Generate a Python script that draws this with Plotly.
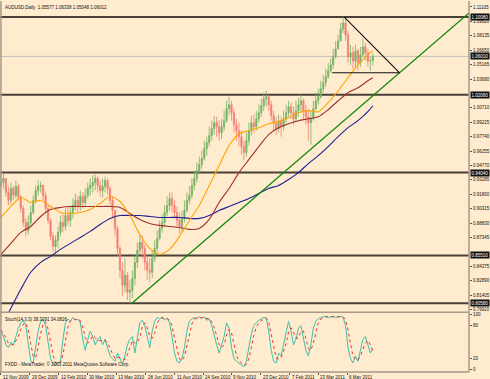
import plotly.graph_objects as go

# ---------------- data ----------------
# price bars (each bar ~ 3 trading days), Nov 2009 .. Jun 2011
closes = [
    0.9302, 0.9343, 0.9199, 0.9117, 0.9240, 0.9168, 0.9261, 0.9158, 0.9034, 0.8891,
    0.8808, 0.8891, 0.8993, 0.9117, 0.9219, 0.9261, 0.9271, 0.9168, 0.9034, 0.8911,
    0.8747, 0.8644, 0.8706, 0.8788, 0.8891, 0.8849, 0.8962, 0.8911, 0.8993, 0.9065,
    0.9117, 0.9065, 0.9158, 0.9096, 0.9168, 0.9240, 0.9271, 0.9302, 0.9343, 0.9271,
    0.9219, 0.9261, 0.9322, 0.9240, 0.9117, 0.9014, 0.8829, 0.8623, 0.8397, 0.8243,
    0.8346, 0.8171, 0.8192, 0.8315, 0.8479, 0.8603, 0.8685, 0.8623, 0.8479, 0.8397,
    0.8377, 0.8521, 0.8623, 0.8726, 0.8829, 0.8891, 0.8993, 0.9065, 0.9137, 0.9065,
    0.8993, 0.8911, 0.8849, 0.8932, 0.9014, 0.9117, 0.9168, 0.9271, 0.9343, 0.9425,
    0.9487, 0.9548, 0.9651, 0.9713, 0.9785, 0.9857, 0.9918, 0.9877, 0.9815, 0.9877,
    0.9939, 1.0062, 1.0103, 1.0021, 0.9898, 0.9836, 0.9774, 0.9672, 0.9610, 0.9733,
    0.9836, 0.9918, 0.9877, 0.9959, 1.0021, 1.0093, 1.0165, 1.0185, 1.0103, 0.9990,
    0.9918, 0.9857, 0.9939, 0.9877, 0.9959, 1.0021, 1.0083, 1.0021, 0.9959, 1.0042,
    1.0103, 1.0144, 1.0042, 0.9980, 0.9918, 0.9959, 1.0062, 1.0144, 1.0185, 1.0268,
    1.0329, 1.0391, 1.0453, 1.0514, 1.0597, 1.0679, 1.0761, 1.0884, 1.0946, 1.0823,
    1.0597, 1.0638, 1.0555, 1.0658, 1.0535, 1.0617, 1.0699, 1.0638, 1.0555, 1.0558, 1.0601]
highs = [
    0.9404, 0.9394, 0.9343, 0.9261, 0.9302, 0.9271, 0.9322, 0.9291, 0.9168, 0.9065,
    0.8932, 0.8962, 0.9065, 0.9168, 0.9271, 0.9322, 0.9312, 0.9281, 0.9199, 0.9065,
    0.8932, 0.8788, 0.8757, 0.8849, 0.8962, 0.8973, 0.9034, 0.9055, 0.9065, 0.9137,
    0.9189, 0.9168, 0.9219, 0.9199, 0.9240, 0.9302, 0.9343, 0.9374, 0.9384, 0.9363,
    0.9322, 0.9343, 0.9363, 0.9343, 0.9271, 0.9158, 0.9014, 0.8860, 0.8654, 0.8479,
    0.8521, 0.8377, 0.8294, 0.8397, 0.8551, 0.8685, 0.8767, 0.8757, 0.8664, 0.8551,
    0.8521, 0.8603, 0.8706, 0.8808, 0.8911, 0.8973, 0.9065, 0.9158, 0.9199, 0.9199,
    0.9117, 0.9055, 0.8993, 0.9014, 0.9117, 0.9199, 0.9261, 0.9343, 0.9425, 0.9507,
    0.9569, 0.9630, 0.9733, 0.9774, 0.9877, 0.9939, 0.9990, 0.9980, 0.9939, 0.9959,
    1.0042, 1.0144, 1.0185, 1.0144, 1.0062, 0.9959, 0.9918, 0.9836, 0.9733, 0.9815,
    0.9918, 0.9990, 1.0000, 1.0042, 1.0103, 1.0165, 1.0227, 1.0247, 1.0206, 1.0144,
    1.0042, 0.9980, 1.0000, 0.9980, 1.0042, 1.0103, 1.0144, 1.0124, 1.0083, 1.0144,
    1.0175, 1.0206, 1.0165, 1.0103, 1.0062, 1.0042, 1.0144, 1.0227, 1.0268, 1.0350,
    1.0412, 1.0473, 1.0535, 1.0576, 1.0679, 1.0761, 1.0823, 1.0946, 1.1008, 1.0987,
    1.0864, 1.0720, 1.0699, 1.0720, 1.0679, 1.0699, 1.0782, 1.0740, 1.0679, 1.0597, 1.0634]
lows = [
    0.9261, 0.9240, 0.9158, 0.9065, 0.9076, 0.9117, 0.9137, 0.9117, 0.8993, 0.8849,
    0.8747, 0.8767, 0.8849, 0.8973, 0.9086, 0.9168, 0.9199, 0.9117, 0.8993, 0.8870,
    0.8706, 0.8582, 0.8562, 0.8623, 0.8747, 0.8788, 0.8808, 0.8860, 0.8849, 0.8932,
    0.9014, 0.8993, 0.9014, 0.9034, 0.9055, 0.9137, 0.9168, 0.9199, 0.9219, 0.9199,
    0.9158, 0.9147, 0.9199, 0.9178, 0.9065, 0.8932, 0.8757, 0.8551, 0.8315, 0.8130,
    0.8171, 0.8089, 0.8058, 0.8110, 0.8243, 0.8418, 0.8551, 0.8521, 0.8397, 0.8294,
    0.8274, 0.8315, 0.8479, 0.8582, 0.8706, 0.8788, 0.8849, 0.8952, 0.9014, 0.8993,
    0.8932, 0.8849, 0.8777, 0.8788, 0.8891, 0.8993, 0.9076, 0.9137, 0.9219, 0.9302,
    0.9384, 0.9446, 0.9528, 0.9579, 0.9672, 0.9733, 0.9795, 0.9774, 0.9733, 0.9754,
    0.9836, 0.9918, 1.0000, 0.9939, 0.9815, 0.9733, 0.9672, 0.9589, 0.9528, 0.9569,
    0.9682, 0.9785, 0.9815, 0.9836, 0.9918, 0.9980, 1.0042, 1.0083, 1.0042, 0.9939,
    0.9836, 0.9795, 0.9815, 0.9774, 0.9836, 0.9918, 0.9980, 0.9959, 0.9898, 0.9918,
    0.9980, 1.0021, 0.9959, 0.9898, 0.9733, 0.9692, 0.9939, 1.0042, 1.0103, 1.0165,
    1.0227, 1.0288, 1.0370, 1.0432, 1.0473, 1.0576, 1.0679, 1.0761, 1.0843, 1.0761,
    1.0535, 1.0514, 1.0473, 1.0494, 1.0453, 1.0494, 1.0597, 1.0555, 1.0494, 1.0453, 1.0505]
first_open = 0.9270

# moving averages, sampled every 4 bars
ma_x = list(range(0, 149, 4)) + [150]
ma_fast = [0.8942, 0.9055, 0.9147, 0.9096, 0.9117, 0.9055, 0.8993, 0.8983, 0.8993, 0.9024,
           0.9086, 0.9158, 0.9106, 0.8962, 0.8767, 0.8623, 0.8562, 0.8613, 0.8747, 0.8911,
           0.9065, 0.9271, 0.9476, 0.9682, 0.9805, 0.9836, 0.9867, 0.9908, 0.9929, 0.9970,
           1.0021, 1.0042, 1.0031, 1.0124, 1.0247, 1.0381, 1.0514, 1.0617, 1.0658]
ma_mid = [0.8562, 0.8675, 0.8788, 0.8849, 0.8952, 0.9024, 0.9045, 0.9055, 0.9055, 0.9055,
          0.9055, 0.9055, 0.9045, 0.8983, 0.8921, 0.8880, 0.8860, 0.8849, 0.8839, 0.8819,
          0.8829, 0.8921, 0.9096, 0.9240, 0.9404, 0.9538, 0.9672, 0.9795, 0.9867, 0.9908,
          0.9939, 0.9959, 0.9980, 1.0052, 1.0144, 1.0227, 1.0278, 1.0350, 1.0381]
ma_slow = [0.7822, 0.8007, 0.8202, 0.8377, 0.8479, 0.8541, 0.8613, 0.8675, 0.8736, 0.8798,
           0.8870, 0.8932, 0.8962, 0.8962, 0.8962, 0.8952, 0.8942, 0.8942, 0.8942, 0.8932,
           0.8932, 0.8962, 0.9014, 0.9055, 0.9096, 0.9137, 0.9189, 0.9240, 0.9271, 0.9332,
           0.9404, 0.9497, 0.9579, 0.9672, 0.9774, 0.9867, 0.9939, 1.0031, 1.0093]

# stochastic (14,3,3)
stoch_k = [70, 60, 45, 40, 50, 45, 60, 75, 85, 90,
           80, 45, 15, 12, 40, 70, 88, 92, 80, 50,
           20, 10, 8, 12, 15, 55, 85, 92, 88, 95,
           90, 92, 85, 55, 35, 55, 70, 60, 45, 55,
           60, 45, 55, 40, 25, 20, 15, 30, 20, 10,
           25, 45, 55, 60, 30, 60, 85, 90, 80, 60,
           40, 70, 88, 95, 92, 96, 90, 94, 85, 60,
           30, 15, 12, 20, 40, 70, 88, 92, 95, 93,
           96, 94, 96, 90, 92, 80, 60, 45, 30, 45,
           60, 85, 75, 40, 20, 15, 12, 8, 5, 15,
           40, 65, 80, 85, 90, 92, 95, 94, 70, 35,
           15, 12, 30, 25, 45, 70, 88, 70, 45, 55,
           75, 80, 55, 35, 25, 45, 75, 88, 92, 95,
           96, 97, 95, 96, 97, 95, 96, 97, 95, 80,
           40, 20, 12, 25, 15, 35, 55, 60, 45, 30, 38.33]
stoch_d = [72, 66, 58, 48, 45, 45, 52, 60, 73, 83,
           85, 72, 47, 24, 22, 41, 66, 83, 87, 74,
           50, 27, 13, 10, 12, 27, 52, 77, 88, 92,
           91, 92, 89, 77, 58, 48, 53, 62, 58, 53,
           53, 53, 53, 47, 40, 28, 20, 22, 22, 20,
           18, 27, 42, 53, 48, 50, 58, 78, 85, 77,
           60, 57, 66, 84, 92, 94, 93, 93, 90, 80,
           58, 35, 19, 16, 24, 43, 66, 83, 92, 93,
           95, 94, 95, 93, 93, 87, 77, 62, 45, 40,
           45, 63, 73, 67, 45, 25, 16, 12, 8, 9,
           20, 40, 62, 77, 85, 89, 92, 94, 86, 66,
           40, 21, 19, 22, 33, 47, 68, 76, 68, 57,
           58, 70, 70, 57, 38, 35, 48, 69, 85, 92,
           94, 96, 96, 96, 96, 96, 96, 96, 96, 91,
           72, 47, 24, 19, 17, 25, 35, 48, 53, 45, 34.08]

# drawn objects: horizontal levels, trend line, triangle
levels = [1.1008, 1.0206, 0.9404, 0.8551, 0.8058]
last_price = 1.0601
trend_x = [52.8, 188.8]
trend_y = [0.8058, 1.1049]
tri_top_x = [138.4, 160.8]
tri_top_y = [1.1008, 1.0432]
tri_base_x = [133.6, 160.8]
tri_base_y = [1.0432, 1.0432]

price_ticks = ["1.11105", "1.09620", "1.08135", "1.06650", "1.05165", "1.03680",
               "1.00710", "0.99225", "0.97740", "0.96255", "0.94770", "0.93285",
               "0.91800", "0.90315", "0.88830", "0.87345", "0.84375", "0.82890",
               "0.81405", "0.79920"]
stoch_ticks = [0, 20, 80, 100]
date_labels = ["12 Nov 2009", "29 Dec 2009", "12 Feb 2010", "30 Mar 2010", "13 May 2010",
               "28 Jun 2010", "11 Aug 2010", "24 Sep 2010", "9 Nov 2010", "23 Dec 2010",
               "7 Feb 2011", "23 Mar 2011", "6 May 2011"]
date_pos = [0, 11.6, 23.2, 34.8, 46.4, 58.4, 70, 81.6, 92.8, 104.8, 116.4, 128, 139.6]

title_text = "AUDUSD,Daily  1.05577 1.06338 1.05048 1.06012"
stoch_text = "Stoch(14,3,3) 38.3291 34.0826"
copy_text = "FXDD - MetaTrader, \u00a9 2001-2011 MetaQuotes Software Corp."

# ---------------- figure ----------------
BG = "#FFEBCD"
BULL = "#74B364"
BEAR = "#F27E72"
FRAME = "#A8998A"
FONT = "Liberation Sans"

bars = list(range(len(closes)))
opens = [first_open] + closes[:-1]

fig = go.Figure()
fig.add_trace(go.Candlestick(
    x=bars, open=opens, high=highs, low=lows, close=closes,
    increasing=dict(line=dict(color=BULL, width=0.8), fillcolor=BULL),
    decreasing=dict(line=dict(color=BEAR, width=0.8), fillcolor=BEAR),
    whiskerwidth=0, showlegend=False, xaxis="x", yaxis="y"))

for vals, col in [(ma_slow, "#1E1E96"), (ma_mid, "#A0302A"), (ma_fast, "#FFA500")]:
    fig.add_trace(go.Scatter(x=ma_x, y=vals, mode="lines",
                             line=dict(color=col, width=1.1, shape="spline", smoothing=0.8),
                             showlegend=False, xaxis="x", yaxis="y"))

fig.add_trace(go.Scatter(x=trend_x, y=trend_y, mode="lines",
                         line=dict(color="#0A8A0A", width=1.3),
                         showlegend=False, xaxis="x", yaxis="y"))
for tx, ty in [(tri_top_x, tri_top_y), (tri_base_x, tri_base_y)]:
    fig.add_trace(go.Scatter(x=tx, y=ty, mode="lines",
                             line=dict(color="#111111", width=1.1),
                             showlegend=False, xaxis="x", yaxis="y"))

fig.add_trace(go.Scatter(x=bars, y=stoch_k, mode="lines",
                         line=dict(color="#3CC0A8", width=1),
                         showlegend=False, xaxis="x2", yaxis="y2"))
fig.add_trace(go.Scatter(x=bars, y=stoch_d, mode="lines",
                         line=dict(color="#F03030", width=1, dash="dot"),
                         showlegend=False, xaxis="x2", yaxis="y2"))

shapes = []
for lv in levels:
    shapes.append(dict(type="line", xref="paper", x0=0, x1=1, yref="y", y0=lv, y1=lv,
                       line=dict(color="#4A4038", width=2), layer="below"))
shapes.append(dict(type="line", xref="paper", x0=0, x1=1, yref="y", y0=last_price, y1=last_price,
                   line=dict(color="#C4C0BA", width=1), layer="below"))
main_bottom = 1 - 312 / 372
stoch_top = 59 / 372
for sh in [
    dict(x0=1, x1=1, y0=0, y1=1),
    dict(x0=0.002, x1=0.002, y0=0, y1=1),
    dict(x0=0, x1=1, y0=main_bottom, y1=main_bottom),
    dict(x0=0, x1=1, y0=0, y1=0),
]:
    shapes.append(dict(type="line", xref="paper", yref="paper", line=dict(color=FRAME, width=1.5), **sh))

annotations = []
for lv in levels + [last_price]:
    annotations.append(dict(x=1, xref="paper", y=lv, yref="y", xanchor="left", yanchor="middle",
                            xshift=1, text=f"{lv:.5f}", showarrow=False,
                            font=dict(family=FONT, size=4.5, color="white"),
                            bgcolor="#111111", borderpad=0.5))
for pos, lab in zip(date_pos, date_labels):
    annotations.append(dict(x=pos, xref="x2", y=0, yref="paper", xanchor="left", yanchor="top",
                            xshift=0, yshift=-1, text=lab, showarrow=False,
                            font=dict(family=FONT, size=4.5, color="#111111")))
annotations.append(dict(x=0.006, xref="paper", y=1, yref="paper", xanchor="left", yanchor="top",
                        yshift=-2, text=title_text, showarrow=False,
                        font=dict(family=FONT, size=4.5, color="#111111")))
annotations.append(dict(x=0.006, xref="paper", y=stoch_top, yref="paper", xanchor="left", yanchor="top",
                        yshift=-2, text=stoch_text, showarrow=False,
                        font=dict(family=FONT, size=4.5, color="#111111")))
annotations.append(dict(x=0.006, xref="paper", y=0, yref="paper", xanchor="left", yanchor="bottom",
                        yshift=3, text=copy_text, showarrow=False,
                        font=dict(family=FONT, size=4.5, color="#111111")))

xr = [-0.4, 188.8]
fig.update_layout(
    width=490, height=379,
    margin=dict(l=0, r=17, t=0, b=7),
    paper_bgcolor=BG, plot_bgcolor=BG,
    font=dict(family=FONT, size=4.5, color="#111111"),
    showlegend=False,
    shapes=shapes, annotations=annotations,
    xaxis=dict(domain=[0, 1], range=xr, anchor="y", showticklabels=False, showgrid=False,
               zeroline=False, rangeslider=dict(visible=False), fixedrange=True),
    xaxis2=dict(domain=[0, 1], range=xr, anchor="y2", matches="x", showticklabels=False,
                showgrid=False, zeroline=False, ticks="outside", ticklen=2, tickcolor="#555555",
                tickvals=date_pos),
    yaxis=dict(domain=[main_bottom, 1], range=[0.7966, 1.1172], side="right", anchor="x",
               tickvals=[float(t) for t in price_ticks], ticktext=price_ticks,
               ticks="outside", ticklen=2, tickcolor="#555555", showgrid=False, zeroline=False,
               tickfont=dict(family=FONT, size=4.5, color="#111111")),
    yaxis2=dict(domain=[0, stoch_top], range=[-4.5, 102.7], side="right", anchor="x2",
                tickvals=stoch_ticks, ticktext=[str(t) for t in stoch_ticks],
                ticks="outside", ticklen=2, tickcolor="#555555", showgrid=False, zeroline=False,
                tickfont=dict(family=FONT, size=4.5, color="#111111")),
)

fig.write_html("out.html")
